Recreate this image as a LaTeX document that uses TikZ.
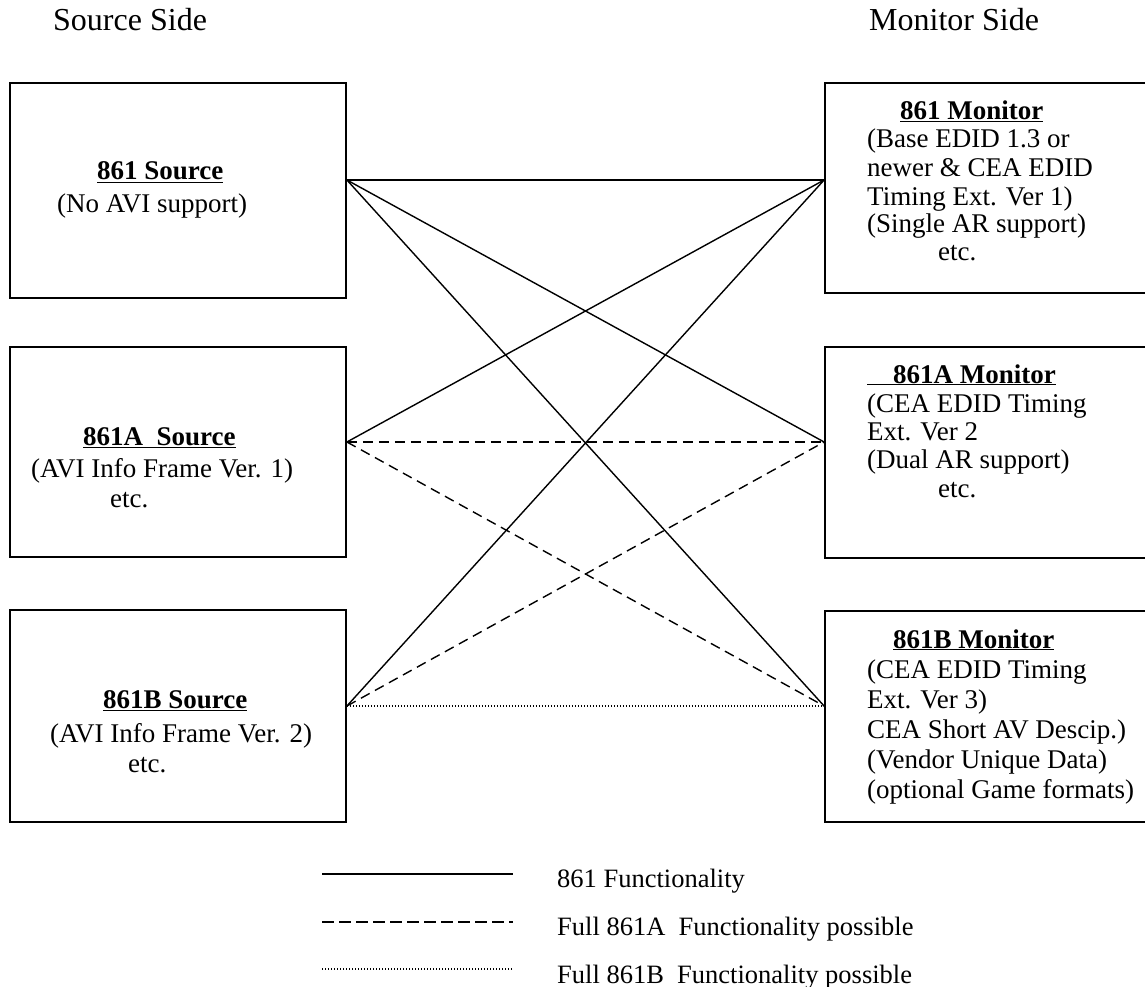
\documentclass[tikz,border=0pt]{standalone}
\usepackage{fontspec}
\setmainfont{Liberation Serif}
\begin{document}
\begin{tikzpicture}[x=1pt,y=-1pt,
  box/.style={draw,line width=1.8pt,rectangle,inner sep=0},
  txt/.style={anchor=base west,inner sep=0,font=\fontsize{27}{30}\selectfont},
  ttl/.style={anchor=base west,inner sep=0,font=\fontsize{32}{36}\selectfont},
  leg/.style={anchor=base west,inner sep=0,font=\fontsize{26.5}{30}\selectfont},
  solidc/.style={line width=1.4pt},
  dashc/.style={line width=1.4pt,dash pattern=on 10pt off 6pt},
  dotc/.style={line width=1.1pt,dash pattern=on 1pt off 2pt}]
\useasboundingbox (0,0) rectangle (1145,987);
% titles
\node[ttl] (tsrc) at (53,31) {Source Side};
\node[ttl] (tmon) at (869,31) {Monitor Side};
% boxes
\node[box,minimum width=336pt,minimum height=215pt] (s1) at (178,190.5) {};
\node[box,minimum width=336pt,minimum height=210pt] (s2) at (178,452) {};
\node[box,minimum width=336pt,minimum height=212pt] (s3) at (178,716) {};
\node[box,minimum width=325pt,minimum height=210pt] (m1) at (987.5,188) {};
\node[box,minimum width=325pt,minimum height=211pt] (m2) at (987.5,452.5) {};
\node[box,minimum width=325pt,minimum height=211pt] (m3) at (987.5,716.5) {};
% connection points
\coordinate (s1p) at ([yshift=10.5pt]s1.east);
\coordinate (s2p) at ([yshift=10pt]s2.east);
\coordinate (s3p) at ([yshift=10pt]s3.east);
\coordinate (m1p) at ([yshift=8pt]m1.west);
\coordinate (m2p) at ([yshift=10.5pt]m2.west);
\coordinate (m3p) at ([yshift=10.5pt]m3.west);
% source texts
\node[txt] (s1a) at (97,180) {\underline{\textbf{861 Source}}};
\node[txt] (s1b) at (57,212) {(No AVI support)};
\node[txt] (s2a) at (83,445) {\underline{\textbf{861A\ \ Source}}};
\node[txt] (s2b) at (31,477) {(AVI Info Frame Ver. 1)};
\node[txt] (s2c) at (110,507) {etc.};
\node[txt] (s3a) at (103,708) {\underline{\textbf{861B Source}}};
\node[txt] (s3b) at (50,742) {(AVI Info Frame Ver. 2)};
\node[txt] (s3c) at (128,772) {etc.};
% monitor texts
\node[txt] (m1a) at (900,120) {\underline{\textbf{861 Monitor}}};
\node[txt] (m1b) at (867,148) {(Base EDID 1.3 or};
\node[txt] (m1c) at (867,177) {newer \& CEA EDID};
\node[txt] (m1d) at (867,205) {Timing Ext. Ver 1)};
\node[txt] (m1e) at (867,233) {(Single AR support)};
\node[txt] (m1f) at (938,260) {etc.};
\node[txt] (m2a) at (867,383) {\underline{\hspace{26pt}\textbf{861A Monitor}}};
\node[txt] (m2b) at (867,412) {(CEA EDID Timing};
\node[txt] (m2c) at (867,440) {Ext. Ver 2};
\node[txt] (m2d) at (867,468) {(Dual AR support)};
\node[txt] (m2e) at (938,497) {etc.};
\node[txt] (m3a) at (893,648) {\underline{\textbf{861B Monitor}}};
\node[txt] (m3b) at (867,678) {(CEA EDID Timing};
\node[txt] (m3c) at (867,708) {Ext. Ver 3)};
\node[txt] (m3d) at (867,738) {CEA Short AV Descip.)};
\node[txt] (m3e) at (867,768) {(Vendor Unique Data)};
\node[txt] (m3f) at (867,798) {(optional Game formats)};
% connectors
\draw[solidc] (s1p) -- (m1p);
\draw[solidc] (s1p) -- (m2p);
\draw[solidc] (s1p) -- (m3p);
\draw[solidc] (s2p) -- (m1p);
\draw[solidc] (s3p) -- (m1p);
\draw[dashc] (s2p) -- (m2p);
\draw[dashc] (s2p) -- (m3p);
\draw[dashc] (s3p) -- (m2p);
\draw[dotc] (s3p) -- (m3p);
% legend
\coordinate (l1a) at (322,874); \coordinate (l1b) at (513,874);
\coordinate (l2a) at (322,922); \coordinate (l2b) at (513,922);
\coordinate (l3a) at (322,969); \coordinate (l3b) at (513,969);
\draw[solidc] (l1a) -- (l1b);
\draw[line width=1.4pt,dash pattern=on 11.5pt off 5.5pt] (l2a) -- (l2b);
\draw[dotc] (l3a) -- (l3b);
\node[leg] (lt1) at (557,887) {861 Functionality};
\node[leg] (lt2) at (557,935) {Full 861A\ \ Functionality possible};
\node[leg] (lt3) at (557,983) {Full 861B\ \ Functionality possible};
\end{tikzpicture}
\end{document}
